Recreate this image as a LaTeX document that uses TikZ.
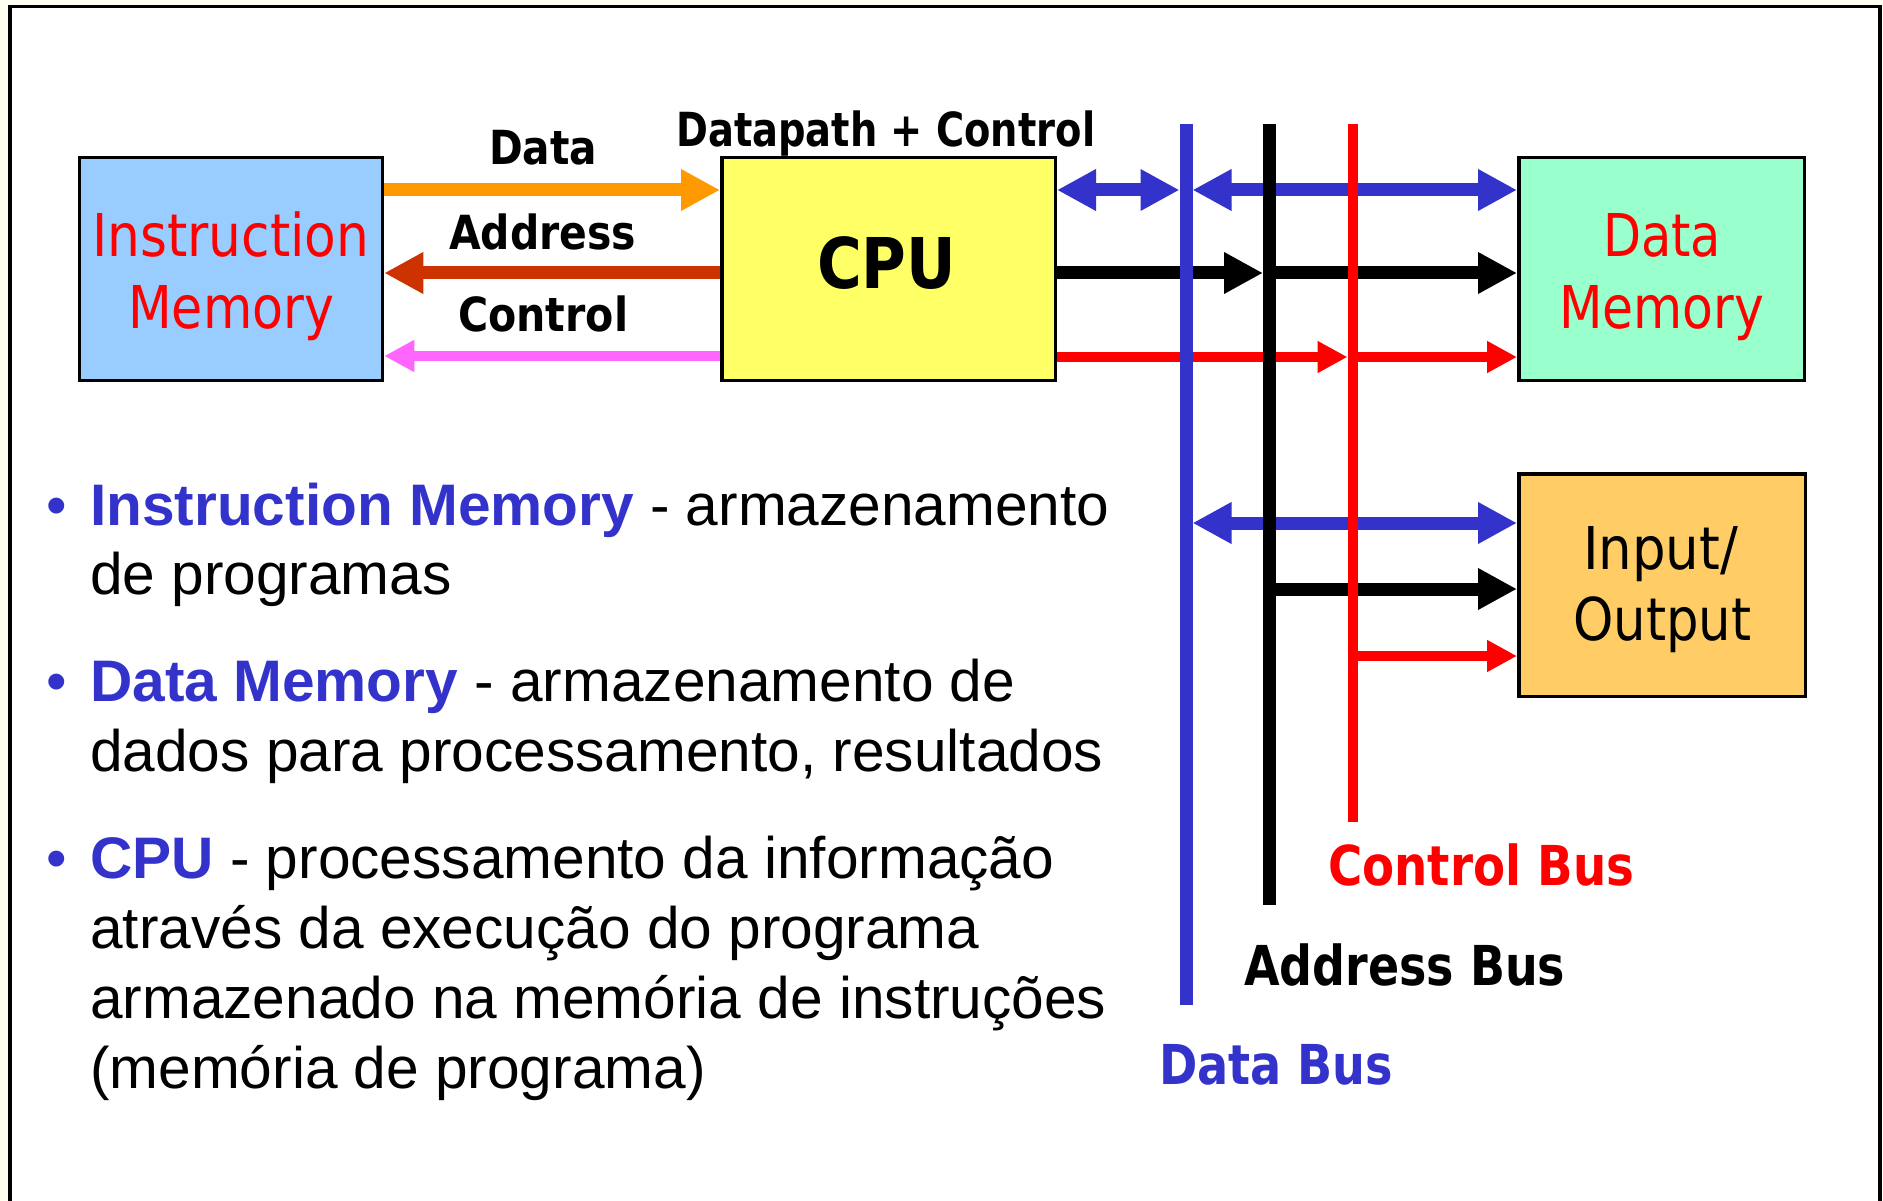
\documentclass[tikz,border=0pt]{standalone}
\usepackage{fontspec}
\usepackage{graphicx}
\setmainfont{Liberation Sans}
\newfontfamily\tah{DejaVu Sans Condensed}
\usetikzlibrary{arrows.meta}
\definecolor{bgcream}{HTML}{FFFEF0}
\definecolor{busblue}{HTML}{3333CC}
\definecolor{dorange}{HTML}{FF9900}
\definecolor{addrred}{HTML}{CC3300}
\definecolor{ctrlpink}{HTML}{FF66FF}
\definecolor{ctrlred}{HTML}{FF0000}
\definecolor{imblue}{HTML}{99CCFF}
\definecolor{cpuyellow}{HTML}{FFFF66}
\definecolor{dmgreen}{HTML}{99FFCC}
\definecolor{ioorange}{HTML}{FFCC66}
\newcommand\LabB[3]{\resizebox{#1}{\height}{\tah\bfseries\fontsize{#2}{#2}\selectfont #3}}
\newcommand\LabR[3]{\resizebox{#1}{\height}{\tah\fontsize{#2}{#2}\selectfont #3}}
\newcommand\BodyFont{\fontsize{58.6}{70}\selectfont}
\begin{document}
\begin{tikzpicture}[x=1pt,y=-1pt,
  box/.style={draw=black, line width=3.5pt, minimum height=222.5pt, inner sep=0pt},
  lab/.style={inner sep=0pt, anchor=base west},
  BigTip/.tip={Triangle[length=39pt,width=39pt]},
  SmallTip/.tip={Triangle[length=30pt,width=30pt]},
  fat/.style={line width=13pt},
  thin/.style={line width=10pt},
  bus/.style={line cap=butt}]
\useasboundingbox (0,0) rectangle (1883,1201);
\fill[bgcream] (0,0) rectangle (1883,1201);
\draw[line width=3.5pt, fill=white] (10,6.5) rectangle (1880,1230);

% boxes
\node[box, fill=imblue, minimum width=303pt] (im) at (231,269) {};
\node[box, fill=cpuyellow, minimum width=333.5pt] (cpu) at (888.5,269) {};
\node[box, fill=dmgreen, minimum width=285.5pt] (dm) at (1661.5,269) {};
\node[box, fill=ioorange, minimum width=286.5pt] (io) at (1662,585) {};

% bus coordinates
\coordinate (dbT) at (1186,124);
\coordinate (dbB) at (1186,1005);
\coordinate (dbL) at (1179.5,124);
\coordinate (dbR) at (1192.5,124);
\coordinate (abT) at (1269.5,124);
\coordinate (abB) at (1269.5,905);
\coordinate (abL) at (1263,124);
\coordinate (cbT) at (1352.5,124);
\coordinate (cbB) at (1352.5,822);
\coordinate (cbL) at (1347.5,124);

% IM <-> CPU
\draw[fat, dorange, -BigTip] (im.east |- 0,190) -- (cpu.west |- 0,190);
\draw[fat, addrred, -BigTip] (cpu.west |- 0,273) -- (im.east |- 0,273);
\draw[thin, ctrlpink, -SmallTip] (cpu.west |- 0,356) -- (im.east |- 0,356);

% CPU -> buses -> DM
\draw[fat, busblue, BigTip-BigTip] (cpu.east |- 0,190) -- (dbL |- 0,190);
\draw[fat, busblue, BigTip-BigTip] (dbR |- 0,190) -- (dm.west |- 0,190);
\draw[fat, black, -BigTip] (cpu.east |- 0,273) -- (abL |- 0,273);
\draw[fat, black, -BigTip] (abT |- 0,273) -- (dm.west |- 0,273);
\draw[thin, ctrlred, -SmallTip] (cpu.east |- 0,357) -- (cbL |- 0,357);
\draw[thin, ctrlred, -SmallTip] (cbT |- 0,357) -- (dm.west |- 0,357);

% buses -> IO
\draw[fat, busblue, BigTip-BigTip] (dbR |- 0,523) -- (io.west |- 0,523);
\draw[fat, black, -BigTip] (abT |- 0,589) -- (io.west |- 0,589);
\draw[thin, ctrlred, -SmallTip] (cbT |- 0,656) -- (io.west |- 0,656);

% buses
\draw[bus, busblue, line width=13pt] (dbT) -- (dbB);
\draw[bus, black, line width=13pt] (abT) -- (abB);
\draw[bus, ctrlred, line width=10pt] (cbT) -- (cbB);

% top labels
\node[lab] (tData) at (489,165) {\LabB{108pt}{47}{Data}};
\node[lab] (tAddr) at (449,249) {\LabB{187pt}{47}{Address}};
\node[lab] (tCtrl) at (458,331) {\LabB{170pt}{47}{Control}};
\node[lab] (tDP) at (676,147) {\LabB{419pt}{47}{Datapath + Control}};
\node[lab] (tCPU) at (817,288) {\LabB{139pt}{70}{CPU}};

% box labels
\node[lab, text=ctrlred] (imA) at (92,257) {\LabR{277pt}{59}{Instruction}};
\node[lab, text=ctrlred] (imB) at (128,328) {\LabR{206pt}{59}{Memory}};
\node[lab, text=ctrlred] (dmA) at (1603,257) {\LabR{118pt}{59}{Data}};
\node[lab, text=ctrlred] (dmB) at (1559,328) {\LabR{205pt}{59}{Memory}};
\node[lab] (ioA) at (1583,569) {\LabR{155pt}{59}{Input/}};
\node[lab] (ioB) at (1573,640) {\LabR{178pt}{59}{Output}};

% bus labels
\node[lab, text=ctrlred] (cbLab) at (1328,885) {\LabB{306pt}{55}{Control Bus}};
\node[lab] (abLab) at (1244,985) {\LabB{321pt}{55}{Address Bus}};
\node[lab, text=busblue] (dbLab) at (1159,1084) {\LabB{234pt}{55}{Data Bus}};

% bullets
\node[lab, text=busblue] (bu1) at (46,525) {\BodyFont •};
\node[lab, text=busblue] (bu2) at (46,701) {\BodyFont •};
\node[lab, text=busblue] (bu3) at (46,878) {\BodyFont •};
\node[lab] (b1a) at (90,525) {\BodyFont{\color{busblue}\bfseries Instruction Memory} - armazenamento};
\node[lab] (b1b) at (90,594) {\BodyFont de programas};
\node[lab] (b2a) at (90,701) {\BodyFont{\color{busblue}\bfseries Data Memory} - armazenamento de};
\node[lab] (b2b) at (90,771) {\BodyFont dados para processamento, resultados};
\node[lab] (b3a) at (90,878) {\BodyFont{\color{busblue}\bfseries CPU} - processamento da informação};
\node[lab] (b3b) at (90,948) {\BodyFont através da execução do programa};
\node[lab] (b3c) at (90,1018) {\BodyFont armazenado na memória de instruções};
\node[lab] (b3d) at (90,1088) {\BodyFont (memória de programa)};
\end{tikzpicture}
\end{document}
